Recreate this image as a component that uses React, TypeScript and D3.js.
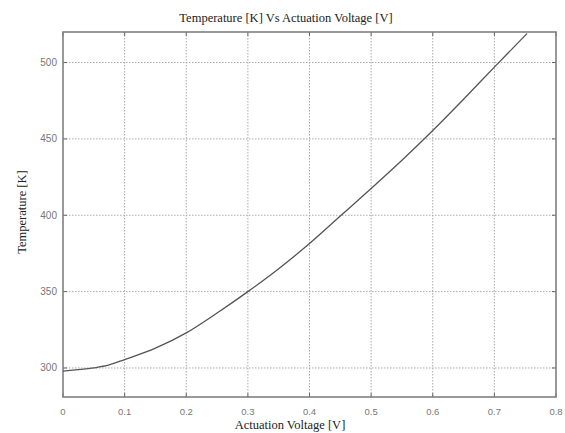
import React, { useEffect, useRef } from "react";
import * as d3 from "d3";

// values
const voltage = [0, 0.05, 0.075, 0.1, 0.15, 0.2, 0.25, 0.3, 0.35, 0.4, 0.45, 0.5, 0.55, 0.6, 0.65, 0.7, 0.753];
const temperature = [298, 300, 302, 305.5, 313, 323, 336, 350, 365, 381.5, 399.5, 417.5, 436, 455.5, 476, 497, 519];
const xTicks = [0, 0.1, 0.2, 0.3, 0.4, 0.5, 0.6, 0.7, 0.8];
const yTicks = [300, 350, 400, 450, 500];

const width = 565;
const height = 433;

export default function App() {
    const svgRef = useRef<SVGSVGElement | null>(null);

    useEffect(() => {
        if (!svgRef.current) return;
        const svg = d3.select(svgRef.current);
        svg.selectAll("*").remove();

        const margin = { top: 32, right: 9, bottom: 36, left: 63 };
        const innerWidth = width - margin.left - margin.right;
        const innerHeight = height - margin.top - margin.bottom;

        const xScale = d3.scaleLinear().domain([0, 0.8]).range([0, innerWidth]);
        const yScale = d3.scaleLinear().domain([281, 520]).range([innerHeight, 0]);

        svg.append("rect").attr("width", width).attr("height", height).attr("fill", "#fff");

        const g = svg.append("g").attr("transform", `translate(${margin.left},${margin.top})`);

        // dotted grid
        g.selectAll(".vgrid")
            .data(xTicks.slice(1, -1))
            .enter()
            .append("line")
            .attr("x1", (d) => xScale(d))
            .attr("x2", (d) => xScale(d))
            .attr("y1", 0)
            .attr("y2", innerHeight)
            .attr("stroke", "#aaa")
            .attr("stroke-width", 1)
            .attr("stroke-dasharray", "1.5,1.5");

        g.selectAll(".hgrid")
            .data(yTicks)
            .enter()
            .append("line")
            .attr("x1", 0)
            .attr("x2", innerWidth)
            .attr("y1", (d) => yScale(d))
            .attr("y2", (d) => yScale(d))
            .attr("stroke", "#aaa")
            .attr("stroke-width", 1)
            .attr("stroke-dasharray", "1.5,1.5");

        // inward ticks on all four sides
        const tickLen = 4;
        xTicks.forEach((t) => {
            g.append("line").attr("x1", xScale(t)).attr("x2", xScale(t)).attr("y1", innerHeight).attr("y2", innerHeight - tickLen).attr("stroke", "#666");
            g.append("line").attr("x1", xScale(t)).attr("x2", xScale(t)).attr("y1", 0).attr("y2", tickLen).attr("stroke", "#666");
        });
        yTicks.forEach((t) => {
            g.append("line").attr("x1", 0).attr("x2", tickLen).attr("y1", yScale(t)).attr("y2", yScale(t)).attr("stroke", "#666");
            g.append("line").attr("x1", innerWidth).attr("x2", innerWidth - tickLen).attr("y1", yScale(t)).attr("y2", yScale(t)).attr("stroke", "#666");
        });

        // frame
        g.append("rect")
            .attr("width", innerWidth)
            .attr("height", innerHeight)
            .attr("fill", "none")
            .attr("stroke", "#808080")
            .attr("stroke-width", 1.6);

        // tick labels
        g.selectAll(".xlab")
            .data(xTicks)
            .enter()
            .append("text")
            .attr("x", (d) => xScale(d))
            .attr("y", innerHeight + 18)
            .attr("text-anchor", "middle")
            .attr("font-family", "Liberation Sans, Arial, sans-serif")
            .attr("font-size", 9.5)
            .attr("fill", "#777")
            .text((d) => String(d));

        g.selectAll(".ylab")
            .data(yTicks)
            .enter()
            .append("text")
            .attr("x", -6)
            .attr("y", (d) => yScale(d) + 3.5)
            .attr("text-anchor", "end")
            .attr("font-family", "Liberation Sans, Arial, sans-serif")
            .attr("font-size", 10)
            .attr("fill", "#777")
            .text((d) => String(d));

        // the curve
        const points = voltage.map((v, i) => ({ x: v, y: temperature[i] }));
        const lineGen = d3
            .line<{ x: number; y: number }>()
            .x((d) => xScale(d.x))
            .y((d) => yScale(d.y))
            .curve(d3.curveMonotoneX);

        g.append("path")
            .datum(points)
            .attr("fill", "none")
            .attr("stroke", "#555")
            .attr("stroke-width", 1.3)
            .attr("d", lineGen);

        // titles
        const serif = "Liberation Serif, Times New Roman, serif";
        svg.append("text")
            .attr("x", 286)
            .attr("y", 22)
            .attr("text-anchor", "middle")
            .attr("font-family", serif)
            .attr("font-size", 12.5)
            .attr("fill", "#222")
            .text("Temperature [K] Vs Actuation Voltage [V]");

        svg.append("text")
            .attr("x", 290)
            .attr("y", 429)
            .attr("text-anchor", "middle")
            .attr("font-family", serif)
            .attr("font-size", 12.5)
            .attr("fill", "#222")
            .text("Actuation Voltage [V]");

        svg.append("text")
            .attr("transform", `translate(26,212) rotate(-90)`)
            .attr("text-anchor", "middle")
            .attr("font-family", serif)
            .attr("font-size", 12.5)
            .attr("fill", "#222")
            .text("Temperature [K]");
    }, []);

    return (
        <div style={{ position: "absolute", left: 0, top: 0 }}>
            <svg ref={svgRef} width={width} height={height} />
        </div>
    );
}
